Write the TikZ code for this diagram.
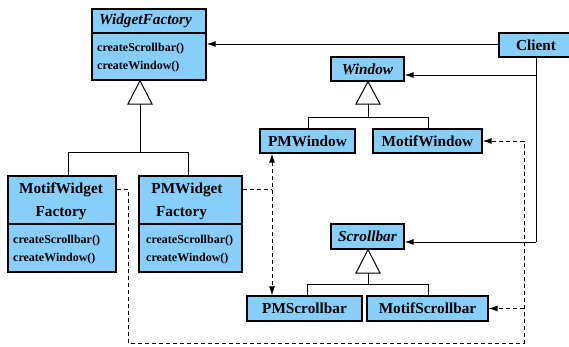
\documentclass[tikz,border=0pt]{standalone}
\usepackage{fontspec}
\setmainfont{Liberation Serif}
\usetikzlibrary{arrows.meta,shadows}
\definecolor{boxblue}{RGB}{135,206,250}
\tikzset{
  cls/.style={draw, fill=boxblue, line width=1.2pt, inner sep=0pt,
    drop shadow={shadow xshift=1.2pt,shadow yshift=-1.2pt,fill=black!40,opacity=1},
    font=\bfseries\fontsize{15.3}{18}\selectfont},
  lbl/.style={inner sep=0pt, font=\bfseries\fontsize{15.3}{18}\selectfont},
  meth/.style={inner sep=0pt, anchor=base west, font=\bfseries\fontsize{12}{14}\selectfont},
  conn/.style={line width=1pt},
  dconn/.style={line width=1pt, dash pattern=on 4pt off 3pt},
  tipend/.style={-{Latex[length=9pt,width=6pt]}},
  tipboth/.style={{Latex[length=9pt,width=6pt]}-{Latex[length=9pt,width=6pt]}},
  inh/.style={draw, fill=white, line width=1pt},
}
\begin{document}
\begin{tikzpicture}[x=1pt,y=-1pt]
\useasboundingbox (0,0) rectangle (569,346);
% inheritance trees (drawn first)
\draw[conn] (140,104) -- (140,152) (68,152) -- (188,152) (68,152) -- (68,176) (188,152) -- (188,176);
\draw[conn] (368,104) -- (368,117) (308,117) -- (428,117) (308,117) -- (308,129) (428,117) -- (428,129);
\draw[conn] (368,273) -- (368,284) (307,284) -- (428,284) (307,284) -- (307,296) (428,284) -- (428,296);
% boxes
\node[cls, minimum width=114pt, minimum height=71pt] (wf) at (149,44.5) {};
\node[cls, minimum width=74pt, minimum height=24pt] (client) at (536,45) {Client};
\node[cls, minimum width=73pt, minimum height=24pt] (win) at (367.5,69) {\textit{Window}};
\node[cls, minimum width=95pt, minimum height=24pt] (pmw) at (307.5,141) {PMWindow};
\node[cls, minimum width=109pt, minimum height=24pt] (mw) at (427.5,141) {MotifWindow};
\node[cls, minimum width=108pt, minimum height=96pt] (mwf) at (62,224) {};
\node[cls, minimum width=103pt, minimum height=96pt] (pwf) at (190.5,224) {};
\node[cls, minimum width=73pt, minimum height=25pt] (sb) at (367.5,236.5) {\textit{Scrollbar}};
\node[cls, minimum width=115pt, minimum height=25pt] (pms) at (304.5,308.5) {PMScrollbar};
\node[cls, minimum width=121pt, minimum height=25pt] (ms) at (427.5,308.5) {MotifScrollbar};
% compartments
\draw[line width=1.2pt] (wf.west |- 0,33) -- (wf.east |- 0,33);
\draw[line width=1.2pt] (mwf.west |- 0,224) -- (mwf.east |- 0,224);
\draw[line width=1.2pt] (pwf.west |- 0,224) -- (pwf.east |- 0,224);
\node[lbl] (wft) at (145.5,21) {\textit{WidgetFactory}};
\node[meth] (wfm1) at (97,51) {createScrollbar()};
\node[meth] (wfm2) at (97,69) {createWindow()};
\node[lbl] (mwft1) at (61,190) {MotifWidget};
\node[lbl] (mwft2) at (61,213) {Factory};
\node[meth] (mwfm1) at (13,243) {createScrollbar()};
\node[meth] (mwfm2) at (13,261) {createWindow()};
\node[lbl] (pwft1) at (187,190) {PMWidget};
\node[lbl] (pwft2) at (181.5,213) {Factory};
\node[meth] (pwfm1) at (146,243) {createScrollbar()};
\node[meth] (pwfm2) at (146,261) {createWindow()};
% triangles
\draw[inh] (140,80.6) -- (152,104) -- (128,104) -- cycle;
\draw[inh] (368,81.6) -- (380,104) -- (356,104) -- cycle;
\draw[inh] (368,249.6) -- (380,273) -- (356,273) -- cycle;
% client associations
\coordinate (jw) at (536,75);
\coordinate (js) at (536,242);
\draw[conn,tipend] (client.west |- 0,44) -- (wf.east |- 0,44);
\draw[conn] (client.south) -- (js);
\draw[conn,tipend] (jw) -- (jw -| win.east);
\draw[conn,tipend] (js) -- (js -| sb.east);
% dependencies
\coordinate (m1) at (128,189);
\coordinate (m2) at (128,343);
\coordinate (m3) at (524,343);
\coordinate (m4) at (524,141);
\coordinate (m5) at (524,308.5);
\draw[dconn,tipend] (mwf.east |- m1) -- (m1) -- (m2) -- (m3) -- (m4) -- (mw.east);
\draw[dconn,tipend] (m5) -- (ms.east);
\coordinate (v) at (272,189);
\draw[dconn] (pwf.east |- v) -- (v);
\draw[dconn,tipboth] (v |- pmw.south) -- (v |- pms.north);
\end{tikzpicture}
\end{document}
